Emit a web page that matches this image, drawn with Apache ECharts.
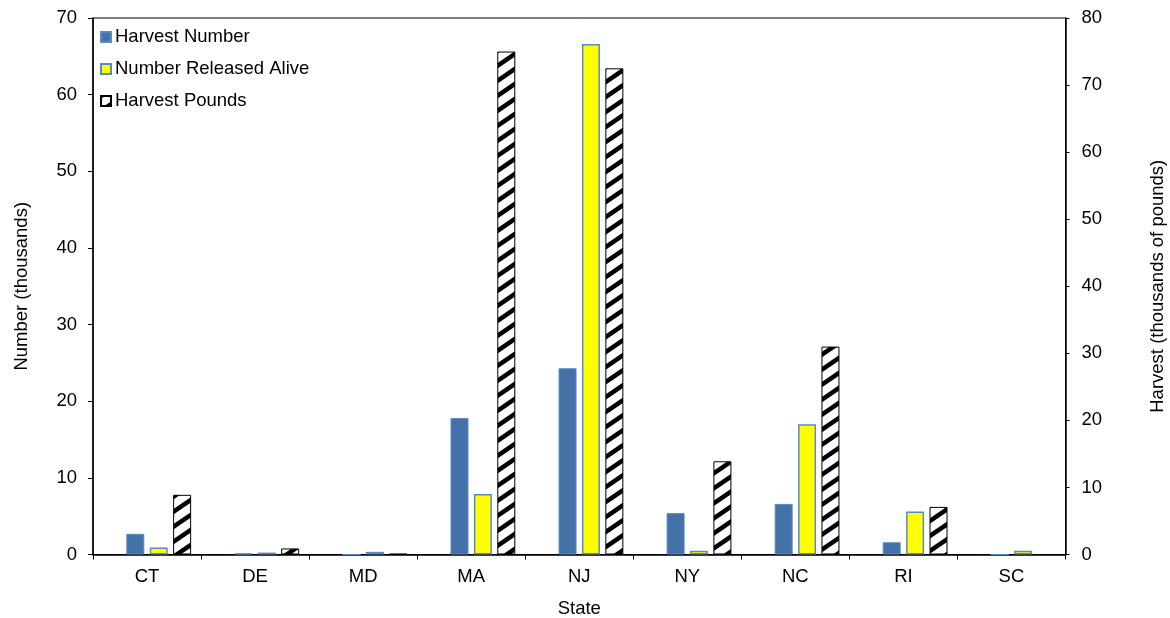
<!DOCTYPE html>
<html>
<head>
<meta charset="utf-8">
<script src="https://cdn.jsdelivr.net/npm/echarts@6/dist/echarts.min.js"></script>
<style>
html,body{margin:0;padding:0;background:#fff;}
#chart{width:1170px;height:618px;}
</style>
</head>
<body>
<div id="chart"></div>
<script>
const states = ['CT','DE','MD','MA','NJ','NY','NC','RI','SC'];
const harvestNumber = [2.7, 0.15, 0, 17.8, 24.3, 5.4, 6.6, 1.6, 0];
const releasedAlive = [0.9, 0.25, 0.35, 7.9, 66.6, 0.5, 17.0, 5.6, 0.5];
const harvestPounds = [8.9, 0.9, 0.1, 75.0, 72.5, 13.9, 31.0, 7.1, 0];

// stripe pattern for Harvest Pounds
function makeStripe(){
  const w = 22, h = 15;
  const c = document.createElement('canvas');
  c.width = w; c.height = h;
  const ctx = c.getContext('2d');
  ctx.fillStyle = '#fff';
  ctx.fillRect(0,0,w,h);
  ctx.strokeStyle = '#000';
  ctx.lineWidth = 4.5;
  for (let k = 0; k <= 2; k++) {
    ctx.beginPath();
    ctx.moveTo(-w, (k+1)*h);
    ctx.lineTo(2*w, (k-2)*h);
    ctx.stroke();
  }
  return c;
}
const stripe = {image: makeStripe(), repeat: 'repeat'};

const FONT = 'Liberation Sans, Arial, sans-serif';
const FS = 18.5;
const chart = echarts.init(document.getElementById('chart'));
chart.setOption({
  animation: false,
  backgroundColor: '#fff',
  textStyle: {fontFamily: FONT, color: '#000'},
  grid: {left: 93, right: 104.5, top: 18, bottom: 63.5, outerBoundsMode: 'none', containLabel: false,
    show: true, borderColor: '#000', borderWidth: 1, backgroundColor: 'transparent'},
  legend: {
    orient: 'vertical', left: 95, top: 22, itemWidth: 10, itemHeight: 10, itemGap: 12,
    icon: 'rect',
    data: ['Harvest Number','Number Released Alive','Harvest Pounds'],
    textStyle: {fontFamily: FONT, fontSize: FS, lineHeight: 20, color: '#000', padding: [0,0,0,-1]},
    selectedMode: false
  },
  xAxis: {
    type: 'category', data: states,
    name: 'State', nameLocation: 'middle', nameGap: 45,
    nameTextStyle: {fontFamily: FONT, fontSize: FS, color: '#000'},
    axisLine: {lineStyle: {color: '#000', width: 1.5}},
    axisTick: {show: true, length: 5, lineStyle: {color: '#000'}},
    axisLabel: {fontFamily: FONT, fontSize: FS, color: '#000', margin: 13}
  },
  yAxis: [
    {
      type: 'value', min: 0, max: 70, interval: 10,
      name: 'Number (thousands)', nameLocation: 'middle', nameGap: 62, nameRotate: 90,
      nameTextStyle: {fontFamily: FONT, fontSize: FS, color: '#000'},
      axisLine: {show: true, lineStyle: {color: '#000', width: 1.5}},
      axisTick: {show: true, length: 5, lineStyle: {color: '#000'}},
      axisLabel: {fontFamily: FONT, fontSize: FS, color: '#000', margin: 16},
      splitLine: {show: false}
    },
    {
      type: 'value', min: 0, max: 80, interval: 10, position: 'right',
      name: 'Harvest (thousands of pounds)', nameLocation: 'middle', nameGap: 83, nameRotate: 90,
      nameTextStyle: {fontFamily: FONT, fontSize: FS, color: '#000'},
      axisLine: {show: true, lineStyle: {color: '#000', width: 1.5}},
      axisTick: {show: true, length: 4, lineStyle: {color: '#000'}},
      axisLabel: {fontFamily: FONT, fontSize: FS, color: '#000', margin: 16},
      splitLine: {show: false}
    }
  ],
  series: [
    {name: 'spacer', type: 'bar', data: [], barWidth: 18, barGap: '30%', silent: true},
    {name: 'Harvest Number', type: 'bar', yAxisIndex: 0, data: harvestNumber, barWidth: 18, barGap: '30%',
      itemStyle: {color: '#4472A8', borderColor: '#5B89C4', borderWidth: 1}},
    {name: 'Number Released Alive', type: 'bar', yAxisIndex: 0, data: releasedAlive, barWidth: 18, barGap: '30%',
      itemStyle: {color: '#FFFF00', borderColor: '#5A8AC6', borderWidth: 1.5}},
    {name: 'Harvest Pounds', type: 'bar', yAxisIndex: 1, data: harvestPounds, barWidth: 18, barGap: '30%',
      itemStyle: {color: stripe, borderColor: '#000', borderWidth: 1}}
  ]
});
</script>
</body>
</html>
